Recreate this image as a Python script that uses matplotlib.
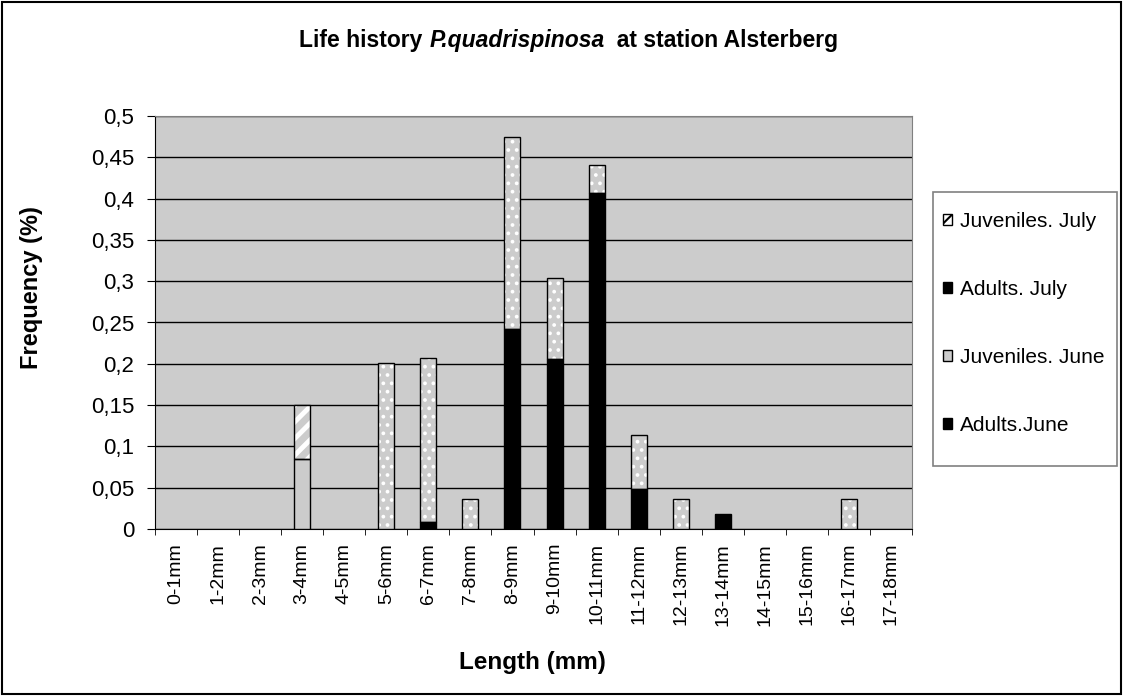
import matplotlib
matplotlib.use("Agg")
import matplotlib.pyplot as plt
from matplotlib.patches import Patch, Rectangle
from matplotlib.ticker import FuncFormatter, MultipleLocator
import numpy as np

plt.rcParams['font.family'] = ['Liberation Sans', 'DejaVu Sans']
plt.rcParams['hatch.linewidth'] = 1.5

categories = ['0-1mm', '1-2mm', '2-3mm', '3-4mm', '4-5mm', '5-6mm', '6-7mm',
              '7-8mm', '8-9mm', '9-10mm', '10-11mm', '11-12mm', '12-13mm',
              '13-14mm', '14-15mm', '15-16mm', '16-17mm', '17-18mm']

adults_june = [0, 0, 0, 0, 0, 0, 0.008, 0, 0.242, 0.206, 0.407, 0.048,
               0, 0.018, 0, 0, 0, 0]
juveniles_june = [0, 0, 0, 0.085, 0, 0, 0, 0, 0, 0, 0, 0,
                  0, 0, 0, 0, 0, 0]
adults_july = [0, 0, 0, 0, 0, 0.201, 0.199, 0.036, 0.233, 0.098, 0.034, 0.066,
               0.036, 0, 0, 0, 0.036, 0]
juveniles_july = [0, 0, 0, 0.065, 0, 0, 0, 0, 0, 0, 0, 0,
                  0, 0, 0, 0, 0, 0]

GRAY = '#cccccc'
W, H = 1123, 696
x = np.arange(len(categories))
w = 0.38

fig = plt.figure(figsize=(W / 100, H / 100), dpi=100)
ax = fig.add_axes([155 / W, 1 - 529 / H, (912 - 155) / W, (529 - 116) / H])
ax.set_facecolor(GRAY)

series = [
    (adults_june, 'black', None, 1.5),
    (juveniles_june, GRAY, None, 1.5),
    (adults_july, GRAY, '..', 1.5),
    (juveniles_july, GRAY, '//', 3.5),
]
bottom = np.zeros(len(categories))
for vals, color, hatch, hlw in series:
    vals = np.array(vals, dtype=float)
    mask = vals > 0
    # relleno + patron blanco
    with plt.rc_context({'hatch.linewidth': hlw}):
        ax.bar(x[mask], vals[mask], w, bottom=bottom[mask], color=color,
               hatch=hatch, edgecolor='white', linewidth=0, zorder=3)
    # contorno negro
    ax.bar(x[mask], vals[mask], w, bottom=bottom[mask], fill=False,
           edgecolor='black', linewidth=1, zorder=4)
    bottom += vals

ax.set_xlim(-0.5, len(categories) - 0.5)
ax.set_ylim(0, 0.5)
ax.yaxis.set_major_locator(MultipleLocator(0.05))
ax.yaxis.set_major_formatter(FuncFormatter(
    lambda v, p: ('%g' % round(v, 2)).replace('.', ',')))
ax.grid(axis='y', color='black', linewidth=1, zorder=1)
ax.set_axisbelow(True)

ax.set_xticks(x)
ax.set_xticklabels(categories, rotation=90, fontsize=14)
ax.set_xticks(np.arange(len(categories) + 1) - 0.5, minor=True)
ax.tick_params(axis='x', which='major', length=0, pad=10)
ax.tick_params(axis='x', which='minor', length=4, direction='out')
ax.tick_params(axis='y', labelsize=16, length=6, direction='out', pad=9)

for s in ['top', 'right']:
    ax.spines[s].set_color('#808080')
ax.spines['left'].set_color('black')
ax.spines['bottom'].set_color('black')

fig.text(32 / W, 1 - 288 / H, 'Frequency (%)', rotation=90, ha='center',
         va='center', fontsize=17, fontweight='bold')
fig.text(532 / W, 1 - 663 / H, 'Length (mm)', ha='center',
         va='center', fontsize=17.5, fontweight='bold')

# titulo en tres partes (cursiva en el nombre de la especie)
parts = [('Life history ', 'normal'), ('P.quadrispinosa', 'italic'),
         ('  at station Alsterberg', 'normal')]
texts = [fig.text(0, 1 - 41 / H, s, ha='left', va='center', fontsize=16.5,
                  fontweight='bold', style=st) for s, st in parts]
fig.canvas.draw()
renderer = fig.canvas.get_renderer()
widths = [t.get_window_extent(renderer).width for t in texts]
xpos = 569 - sum(widths) / 2
for t, wd in zip(texts, widths):
    t.set_x(xpos / W)
    xpos += wd

# leyenda: marco aparte para controlar su tamaño
fig.patches.append(Rectangle((933 / W, 1 - 466 / H), (1117 - 933) / W, (466 - 192) / H,
                             transform=fig.transFigure, fill=True, facecolor='white',
                             edgecolor='#808080', linewidth=1.2, zorder=1))
handles = [
    Patch(facecolor='white', edgecolor='black', hatch='//', label='Juveniles. July'),
    Patch(facecolor='black', edgecolor='black', label='Adults. July'),
    Patch(facecolor=GRAY, edgecolor='black', label='Juveniles. June'),
    Patch(facecolor='black', edgecolor='black', label='Adults.June'),
]
leg = fig.legend(handles=handles, loc='upper left',
                 bbox_to_anchor=(943 / W, 1 - 212 / H), fontsize=15,
                 frameon=False, handlelength=0.45, handleheight=0.45,
                 handletextpad=0.35, labelspacing=2.35, borderpad=0,
                 borderaxespad=0)
leg.set_zorder(5)

fig.patches.append(Rectangle((0.002, 0.003), 0.996, 0.994, transform=fig.transFigure,
                             fill=False, edgecolor='black', linewidth=1.5))

fig.savefig('out.png', dpi=100)
plt.close(fig)
